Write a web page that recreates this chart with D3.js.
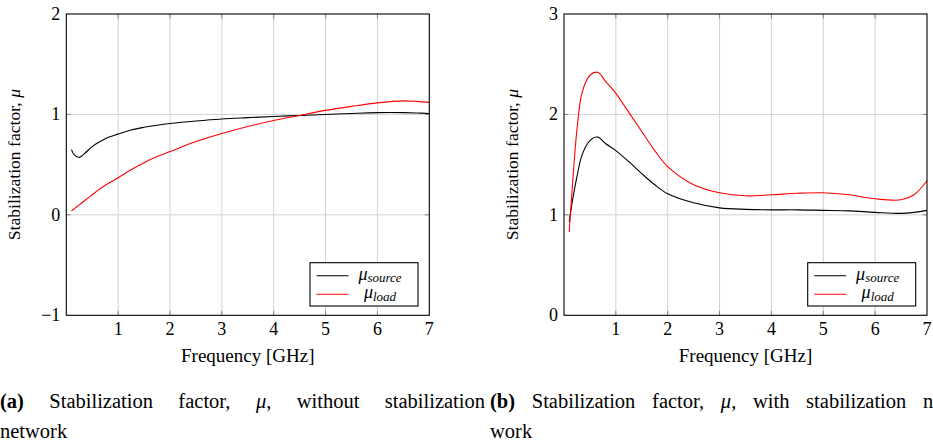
<!DOCTYPE html>
<html>
<head>
<meta charset="utf-8">
<script src="https://cdn.jsdelivr.net/npm/d3@7"></script>
</head>
<body style="margin:0">
<svg id="chart" width="933" height="441" style="font-family: 'Nimbus Roman'"></svg>
<script>
var FONT = "'Nimbus Roman'";

// frequency points (GHz), shared by all series
var freq = [0.1, 0.15, 0.25, 0.35, 0.5, 0.65, 0.8, 1, 1.25, 1.5, 1.75, 2, 2.5, 3, 3.5, 4, 4.5, 5, 5.5, 6, 6.5, 6.75, 7];

// (a) without stabilization network
var sourceA = [0.65, 0.60, 0.572, 0.61, 0.68, 0.73, 0.77, 0.805, 0.845, 0.872, 0.893, 0.91, 0.935, 0.955, 0.968, 0.98, 0.99, 1.0, 1.01, 1.018, 1.018, 1.015, 1.01];
var loadA   = [0.04, 0.06, 0.10, 0.14, 0.20, 0.26, 0.31, 0.37, 0.45, 0.52, 0.58, 0.63, 0.73, 0.81, 0.88, 0.94, 0.99, 1.04, 1.08, 1.115, 1.135, 1.13, 1.12];

// (b) with stabilization network
var sourceB = [0.93, 1.10, 1.38, 1.60, 1.74, 1.775, 1.71, 1.64, 1.53, 1.41, 1.30, 1.21, 1.12, 1.07, 1.055, 1.05, 1.05, 1.045, 1.04, 1.025, 1.015, 1.025, 1.045];
var loadB   = [0.83, 1.20, 1.85, 2.22, 2.39, 2.42, 2.33, 2.21, 2.02, 1.83, 1.64, 1.48, 1.30, 1.22, 1.19, 1.20, 1.215, 1.22, 1.20, 1.16, 1.15, 1.20, 1.34];

var xTicks = [1, 2, 3, 4, 5, 6, 7];
var yTicksA = [-1, 0, 1, 2];
var yTicksB = [0, 1, 2, 3];

var svg = d3.select("#chart");

function panel(left, right, yDomain, yTicks, src, load) {
  var top = 14, bottom = 315.3;
  var x = d3.scaleLinear().domain([0, 7]).range([left, right]);
  var y = d3.scaleLinear().domain(yDomain).range([bottom, top]);
  var g = svg.append("g");

  // grid
  g.selectAll(".vg").data(xTicks.slice(0, -1)).enter().append("line")
    .attr("x1", d => x(d)).attr("x2", d => x(d))
    .attr("y1", top).attr("y2", bottom)
    .attr("stroke", "#d2d2d2").attr("stroke-width", 1);
  g.selectAll(".hg").data(yTicks.slice(1, -1)).enter().append("line")
    .attr("x1", left).attr("x2", right)
    .attr("y1", d => y(d)).attr("y2", d => y(d))
    .attr("stroke", "#d2d2d2").attr("stroke-width", 1);

  // inner tick marks on all sides
  var tk = 4.5;
  g.selectAll(".xtb").data(xTicks.slice(0, -1)).enter().append("path")
    .attr("d", d => "M" + x(d) + "," + bottom + "V" + (bottom - tk) + "M" + x(d) + "," + top + "V" + (top + tk))
    .attr("stroke", "#888");
  g.selectAll(".ytb").data(yTicks.slice(1, -1)).enter().append("path")
    .attr("d", d => "M" + left + "," + y(d) + "H" + (left + tk) + "M" + right + "," + y(d) + "H" + (right - tk))
    .attr("stroke", "#888");

  // curves
  var line = d3.line()
    .x((d, i) => x(freq[i]))
    .y(d => y(d))
    .curve(d3.curveCatmullRom.alpha(0.5));

  g.append("path").datum(src).attr("d", line)
    .attr("fill", "none").attr("stroke", "#000").attr("stroke-width", 1.1);
  g.append("path").datum(load).attr("d", line)
    .attr("fill", "none").attr("stroke", "#ff0000").attr("stroke-width", 1.1);

  // frame
  g.append("rect")
    .attr("x", left).attr("y", top)
    .attr("width", right - left).attr("height", bottom - top)
    .attr("fill", "none").attr("stroke", "#000").attr("stroke-width", 1.1);

  // tick labels
  g.selectAll(".xl").data(xTicks).enter().append("text")
    .style("font-family", FONT)
    .attr("x", d => x(d)).attr("y", bottom + 19.5)
    .attr("text-anchor", "middle")
    .attr("font-size", 18)
    .text(d => d);
  g.selectAll(".yl").data(yTicks).enter().append("text")
    .style("font-family", FONT)
    .attr("x", left - 6).attr("y", d => y(d) + 6)
    .attr("text-anchor", "end")
    .attr("font-size", 18)
    .text(d => d < 0 ? "\u2212" + Math.abs(d) : d);

  // axis labels
  g.append("text")
    .style("font-family", FONT)
    .attr("x", (left + right) / 2).attr("y", 361.5)
    .attr("text-anchor", "middle")
    .attr("font-size", 19)
    .text("Frequency [GHz]");

  var yl = g.append("text")
    .style("font-family", FONT)
    .attr("transform", "translate(" + (left - 46) + "," + ((top + bottom) / 2) + ") rotate(-90)")
    .attr("text-anchor", "middle")
    .attr("font-size", 17.6);
  yl.append("tspan").text("Stabilization factor, ");
  yl.append("tspan").attr("font-style", "italic").text("\u03bc");

  // legend
  var lx = right - 119.3, ly = 262.7;
  var leg = g.append("g");
  leg.append("rect")
    .attr("x", lx).attr("y", ly).attr("width", 108).attr("height", 43.3)
    .attr("fill", "#fff").attr("stroke", "#000").attr("stroke-width", 1.1);
  var items = [{sub: "source", color: "#000"}, {sub: "load", color: "#ff0000"}];
  items.forEach(function(it, i) {
    var cy = ly + 13 + i * 18.6;
    leg.append("line")
      .attr("x1", lx + 6.5).attr("x2", lx + 38.5)
      .attr("y1", cy).attr("y2", cy)
      .attr("stroke", it.color).attr("stroke-width", 1.1);
    var t = leg.append("text")
      .style("font-family", FONT)
      .attr("x", lx + 70).attr("y", cy + 4)
      .attr("text-anchor", "middle")
      .attr("font-size", 18);
    t.append("tspan").attr("font-style", "italic").text("\u03bc");
    t.append("tspan").attr("font-style", "italic").attr("font-size", 13)
      .attr("dy", 2.5).text(it.sub);
  });
}

// captions, justified word by word; lastAt = x where the last word starts
function caption(words, x0, x1, y, lastAt) {
  var nodes = words.map(function(w) {
    var t = svg.append("text").style("font-family", FONT).attr("y", y).attr("font-size", 20.5);
    w.forEach(function(part) {
      var s = t.append("tspan").text(part[0]);
      if (part[1] === "b") s.attr("font-weight", "bold");
      if (part[1] === "i") s.attr("font-style", "italic");
    });
    return t;
  });
  var widths = nodes.map(n => n.node().getComputedTextLength());
  var gap = lastAt
    ? (lastAt - x0 - d3.sum(widths.slice(0, -1))) / (nodes.length - 1)
    : (x1 - x0 - d3.sum(widths)) / (nodes.length - 1);
  var cx = x0;
  nodes.forEach(function(n, i) {
    n.attr("x", cx);
    cx += widths[i] + gap;
  });
}

function draw() {
  svg.selectAll("*").remove();
  panel(66.3, 429.3, [-1, 2], yTicksA, sourceA, loadA);
  panel(564, 927, [0, 3], yTicksB, sourceB, loadB);

  caption([[["(a)", "b"]], [["Stabilization"]], [["factor,"]], [["\u03bc", "i"], [","]], [["without"]], [["stabilization"]]], 0, 485, 408);
  caption([[["(b)", "b"]], [["Stabilization"]], [["factor,"]], [["\u03bc", "i"], [","]], [["with"]], [["stabilization"]], [["net-"]]], 490, null, 408, 923);

  svg.append("text").style("font-family", FONT).attr("x", 0).attr("y", 438).attr("font-size", 20.5).text("network");
  svg.append("text").style("font-family", FONT).attr("x", 490).attr("y", 438).attr("font-size", 20.5).text("work");
}

draw();
// redo the layout once the serif face is ready, so caption widths are measured with it
if (document.fonts && document.fonts.load) {
  document.fonts.load("20px 'Nimbus Roman'").then(draw, function() {});
}
</script>
</body>
</html>
